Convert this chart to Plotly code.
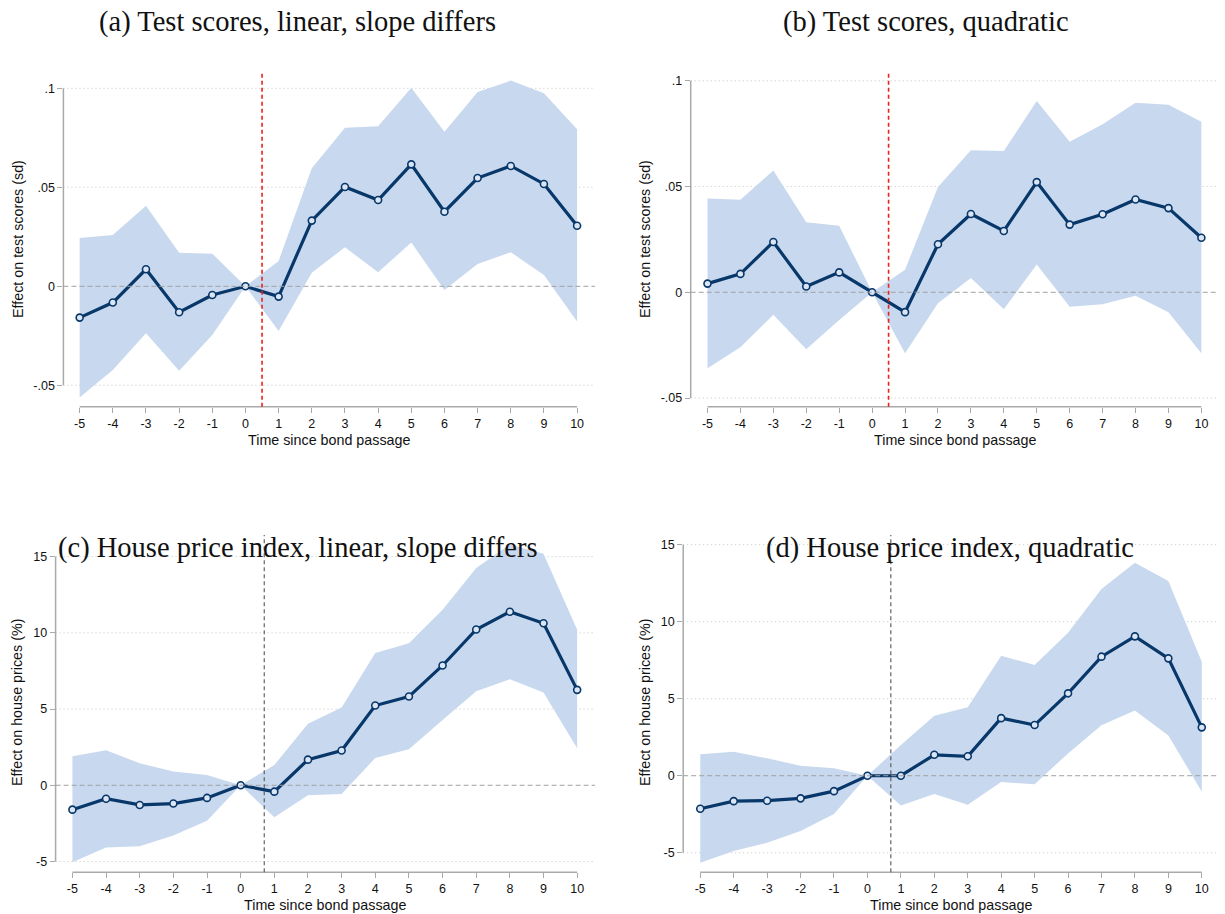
import plotly.graph_objects as go

W, H = 1225, 914

periods = list(range(-5, 11))

# Panel (a): Test scores, linear, slope differs
a_est = [-0.0158, -0.0082, 0.0086, -0.0131, -0.0044, 0.0, -0.0052, 0.0332, 0.0502, 0.0436,
         0.0616, 0.0377, 0.0547, 0.0608, 0.0517, 0.0306]
a_hi = [0.0244, 0.0259, 0.0407, 0.0170, 0.0165, 0.0, 0.0128, 0.0596, 0.0801, 0.0808,
        0.1003, 0.0781, 0.0981, 0.1039, 0.0975, 0.0793]
a_lo = [-0.0562, -0.0423, -0.0237, -0.0426, -0.0246, 0.0, -0.0226, 0.0069, 0.0197, 0.0071,
        0.0221, -0.0019, 0.0113, 0.0172, 0.0057, -0.0178]

# Panel (b): Test scores, quadratic
b_est = [0.0041, 0.0087, 0.0238, 0.0027, 0.0094, 0.0, -0.0094, 0.0227, 0.0370, 0.0290,
         0.0521, 0.0320, 0.0369, 0.0439, 0.0398, 0.0258]
b_hi = [0.0443, 0.0438, 0.0576, 0.0331, 0.0315, 0.0, 0.0107, 0.0498, 0.0671, 0.0668,
        0.0904, 0.0712, 0.0795, 0.0896, 0.0887, 0.0806]
b_lo = [-0.0359, -0.0260, -0.0106, -0.0269, -0.0131, 0.0, -0.0288, -0.0052, 0.0068, -0.0080,
        0.0131, -0.0068, -0.0057, -0.0016, -0.0094, -0.0288]

# Panel (c): House price index, linear, slope differs
c_est = [-1.60, -0.88, -1.29, -1.20, -0.83, 0.0, -0.42, 1.68, 2.28, 5.23,
         5.82, 7.86, 10.22, 11.38, 10.63, 6.26]
c_hi = [1.90, 2.30, 1.44, 0.90, 0.68, 0.0, 1.33, 4.03, 5.10, 8.67,
        9.32, 11.51, 14.25, 15.80, 15.19, 10.20]
c_lo = [-5.05, -4.09, -4.00, -3.30, -2.32, 0.0, -2.10, -0.66, -0.57, 1.79,
        2.36, 4.29, 6.17, 6.96, 6.08, 2.43]

# Panel (d): House price index, quadratic
d_est = [-2.14, -1.65, -1.62, -1.47, -1.00, 0.0, 0.0, 1.36, 1.26, 3.74,
         3.29, 5.35, 7.73, 9.05, 7.62, 3.14]
d_hi = [1.39, 1.56, 1.13, 0.65, 0.48, 0.0, 1.99, 3.90, 4.44, 7.79,
        7.19, 9.29, 12.12, 13.83, 12.64, 7.40]
d_lo = [-5.65, -4.89, -4.35, -3.59, -2.49, 0.0, -1.93, -1.19, -1.88, -0.41,
        -0.56, 1.45, 3.27, 4.24, 2.62, -1.04]

titles = ["(a) Test scores, linear, slope differs",
          "(b) Test scores, quadratic",
          "(c) House price index, linear, slope differs",
          "(d) House price index, quadratic"]
x_title = "Time since bond passage"
y_titles = ["Effect on test scores (sd)", "Effect on test scores (sd)",
            "Effect on house prices (%)", "Effect on house prices (%)"]

ts_ticks = [-0.05, 0, 0.05, 0.1]
ts_ticktext = ["-.05", "0", ".05", ".1"]
hp_ticks = [-5, 0, 5, 10, 15]
hp_ticktext = ["-5", "0", "5", "10", "15"]

vline_test = 0.5
vline_house = 0.7

FILL = "#c8d9ef"
NAVY = "#08376a"
GRID = "#c4c4c4"
AXIS = "#a9a9a9"
ZERO = "#a0a0a0"
SANS = "Liberation Sans, Arial, sans-serif"
SERIF = "Liberation Serif, Times New Roman, serif"


def px(x):
    return x / W


def py(y):
    return 1 - y / H


panels = [
    dict(est=a_est, hi=a_hi, lo=a_lo, xd=[px(63.4), px(595)], yd=[py(406.7), py(71.7)],
         xr=[-5.49, 10.54], yr=[-0.0608, 0.1084], tv=ts_ticks, tt=ts_ticktext,
         vx=vline_test, vc="#e8231b", vw=1.6,
         title_xy=(297, 22), xt_xy=(329, 440), yt_xy=(18, 239)),
    dict(est=b_est, hi=b_hi, lo=b_lo, xd=[px(690.7), px(1218.5)], yd=[py(406.7), py(71.7)],
         xr=[-5.51, 10.52], yr=[-0.0541, 0.1043], tv=ts_ticks, tt=ts_ticktext,
         vx=vline_test, vc="#e8231b", vw=1.6,
         title_xy=(926, 22), xt_xy=(955, 440), yt_xy=(645, 239)),
    dict(est=c_est, hi=c_hi, lo=c_lo, xd=[px(55.6), px(595)], yd=[py(872.3), py(535)],
         xr=[-5.50, 10.53], yr=[-5.71, 16.42], tv=hp_ticks, tt=hp_ticktext,
         vx=vline_house, vc="#555555", vw=1.1,
         title_xy=(298, 548), xt_xy=(325, 905), yt_xy=(17, 703)),
    dict(est=d_est, hi=d_hi, lo=d_lo, xd=[px(683.2), px(1218.5)], yd=[py(872.3), py(535)],
         xr=[-5.51, 10.50], yr=[-6.27, 15.63], tv=hp_ticks, tt=hp_ticktext,
         vx=vline_house, vc="#555555", vw=1.1,
         title_xy=(950, 548), xt_xy=(951, 905), yt_xy=(645, 703)),
]

fig = go.Figure()
shapes = []
annotations = []
layout_axes = {}

for i, p in enumerate(panels):
    sfx = "" if i == 0 else str(i + 1)
    xa, ya = "x" + sfx, "y" + sfx
    # confidence band
    fig.add_trace(go.Scatter(
        x=periods + periods[::-1], y=p["hi"] + p["lo"][::-1],
        fill="toself", fillcolor=FILL, mode="lines", line=dict(width=0, color=FILL),
        hoverinfo="skip", showlegend=False, xaxis=xa, yaxis=ya))
    # point estimates
    fig.add_trace(go.Scatter(
        x=periods, y=p["est"], mode="lines+markers",
        line=dict(color=NAVY, width=3.2),
        marker=dict(symbol="circle", size=7, color="#dbe5f3", line=dict(color=NAVY, width=1.6)),
        showlegend=False, xaxis=xa, yaxis=ya))

    layout_axes["xaxis" + sfx] = dict(
        domain=p["xd"], range=p["xr"], anchor=ya,
        tickmode="array", tickvals=periods, ticktext=[str(v) for v in periods],
        ticks="outside", ticklen=5, tickwidth=1.3, tickcolor=AXIS,
        showgrid=False, showline=False, zeroline=False,
        tickfont=dict(family=SANS, size=12.5, color="#111111"))
    layout_axes["yaxis" + sfx] = dict(
        domain=p["yd"], range=p["yr"], anchor=xa,
        tickmode="array", tickvals=p["tv"], ticktext=p["tt"],
        ticks="outside", ticklen=5, tickwidth=1.3, tickcolor=AXIS,
        showgrid=False, showline=False, zeroline=False,
        tickfont=dict(family=SANS, size=12.5, color="#111111"))

    # dotted gridlines at the non-zero ticks
    for tv in p["tv"]:
        if tv != 0:
            shapes.append(dict(type="line", xref=xa + " domain", yref=ya,
                               x0=0, x1=1, y0=tv, y1=tv,
                               line=dict(color=GRID, width=1, dash="1px,3px"), layer="below"))
    # Stata-style axis lines spanning only tick range
    shapes.append(dict(type="line", xref=xa + " domain", yref=ya,
                       x0=0, x1=0, y0=p["tv"][0], y1=p["tv"][-1],
                       line=dict(color=AXIS, width=1.5), layer="above"))
    shapes.append(dict(type="line", xref=xa, yref=ya + " domain",
                       x0=periods[0], x1=periods[-1], y0=0, y1=0,
                       line=dict(color=AXIS, width=1.5), layer="above"))
    # zero reference line
    shapes.append(dict(type="line", xref=xa + " domain", yref=ya,
                       x0=0, x1=1, y0=0, y1=0,
                       line=dict(color=ZERO, width=1, dash="5px,3px"), layer="above"))
    # event vertical line
    shapes.append(dict(type="line", xref=xa, yref=ya + " domain",
                       x0=p["vx"], x1=p["vx"], y0=0, y1=1,
                       line=dict(color=p["vc"], width=p["vw"], dash="4px,3px"), layer="above"))

    tx, ty = p["title_xy"]
    annotations.append(dict(text=titles[i], x=px(tx), y=py(ty), xref="paper", yref="paper",
                            showarrow=False, xanchor="center", yanchor="middle",
                            font=dict(family=SERIF, size=28.5, color="#111111")))
    xx, xy = p["xt_xy"]
    annotations.append(dict(text=x_title, x=px(xx), y=py(xy), xref="paper", yref="paper",
                            showarrow=False, xanchor="center", yanchor="middle",
                            font=dict(family=SANS, size=14.3, color="#111111")))
    yx, yy = p["yt_xy"]
    annotations.append(dict(text=y_titles[i], x=px(yx), y=py(yy), xref="paper", yref="paper",
                            showarrow=False, xanchor="center", yanchor="middle", textangle=-90,
                            font=dict(family=SANS, size=14.3, color="#111111")))

fig.update_layout(
    width=W, height=H, margin=dict(l=0, r=0, t=0, b=0),
    paper_bgcolor="white", plot_bgcolor="white",
    shapes=shapes, annotations=annotations, showlegend=False,
    **layout_axes)

fig.write_html("out.html", config={"displayModeBar": False},
               post_script="document.body.style.margin='0px';")
